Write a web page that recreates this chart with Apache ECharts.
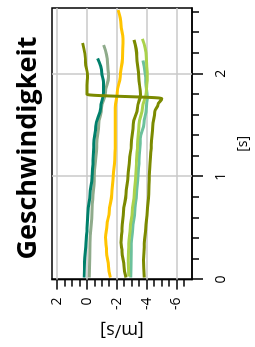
<!DOCTYPE html>
<html><head><meta charset="utf-8">
<script src="https://cdn.jsdelivr.net/npm/echarts@6/dist/echarts.min.js"></script>
<style>
html,body{margin:0;padding:0;background:#fff;overflow:hidden;width:255px;height:347px}
#clip{position:relative;width:255px;height:347px;overflow:hidden}
#wrap{position:absolute;left:0;top:0;width:347px;height:255px;transform-origin:0 0;transform:translate(0,347px) rotate(-90deg);}
</style></head><body><div id="clip"><div id="wrap"></div></div>
<script>
const titleText = 'Geschwindigkeit';
const timeName = '[s]';
const speedName = '[m/s]';
const timeMajorTicks = [0, 1, 2];
const timeMinorTicks = [0.2, 0.4, 0.6, 0.8, 1.2, 1.4, 1.6, 1.8, 2.2, 2.4, 2.6];
const speedMajorTicks = [-6, -4, -2, 0, 2];
const speedMinorTicks = [-6.5, -5.5, -5, -4.5, -3.5, -3, -2.5, -1.5, -1, -0.5, 0.5, 1, 1.5];
const timeGrid = [1, 2];
const speedGrid = [-6, -4, -2, 0, 2];

const teal = [[0.02,0.18],[0.17,0.15],[0.36,0.05],[0.5,-0.02],[0.66,-0.08],[0.83,-0.21],[0.99,-0.34],[1.16,-0.41],[1.32,-0.47],[1.49,-0.6],[1.67,-0.93],[1.82,-1.12],[1.92,-1.12],[2.01,-1.0],[2.15,-0.73]];
const sage = [[0.02,-0.17],[0.36,-0.21],[0.66,-0.34],[0.99,-0.5],[1.32,-0.67],[1.51,-0.8],[1.67,-0.99],[1.82,-1.25],[1.97,-1.45],[2.11,-1.38],[2.28,-1.12]];
const yellow = [[0.02,-1.58],[0.13,-1.45],[0.27,-1.32],[0.41,-1.25],[0.53,-1.35],[0.66,-1.51],[0.83,-1.67],[1.01,-1.77],[1.16,-1.87],[1.31,-1.9],[1.49,-1.9],[1.67,-1.9],[1.82,-2.03],[1.97,-2.23],[2.15,-2.39],[2.34,-2.42],[2.48,-2.29],[2.62,-2.1]];
const olive2 = [[0.02,-2.62],[0.13,-2.49],[0.27,-2.36],[0.36,-2.29],[0.5,-2.36],[0.66,-2.46],[0.83,-2.62],[1.01,-2.75],[1.16,-2.85],[1.31,-2.98],[1.51,-3.11],[1.67,-3.4],[1.8,-3.59],[1.97,-3.48],[2.17,-3.35],[2.33,-3.16]];
const seafoam = [[0.02,-2.94],[0.35,-2.97],[0.5,-3.07],[0.66,-3.2],[0.83,-3.33],[1.01,-3.43],[1.16,-3.5],[1.37,-3.57],[1.52,-3.83],[1.66,-3.98],[1.78,-4.05],[1.92,-3.95],[2.13,-3.76]];
const lime = [[0.03,-2.81],[0.19,-2.78],[0.35,-2.81],[0.5,-2.91],[0.66,-3.04],[0.83,-3.17],[1.01,-3.27],[1.16,-3.33],[1.31,-3.4],[1.51,-3.5],[1.67,-3.72],[1.82,-3.98],[1.97,-4.05],[2.17,-3.98],[2.34,-3.72]];
const olive1 = [[0.02,-3.85],[0.19,-3.79],[0.35,-3.85],[0.5,-3.95],[0.66,-4.05],[0.83,-4.15],[1.01,-4.18],[1.16,-4.24],[1.31,-4.31],[1.49,-4.41],[1.63,-4.54],[1.7,-4.76],[1.76,-5.02],[1.8,-0.02],[1.89,-0.02],[1.98,-0.05],[2.11,0.08],[2.3,0.28]];

const FONT = '"Open Sans", "Liberation Sans", sans-serif';
const chart = echarts.init(document.getElementById('wrap'), null, {renderer: 'canvas', width: 347, height: 255});

function line(data, color) {
  return {type: 'line', data: data, smooth: 0.4, smoothMonotone: 'x', showSymbol: false, symbol: 'none',
    lineStyle: {color: color, width: 3}, itemStyle: {color: color}, z: 3, silent: true};
}
const axisBlack = {color: '#000', width: 1.5};
const timeRange = {min: 0, max: 2.64};
const speedRange = {min: -7.04, max: 2.33};

chart.setOption({
  animation: false,
  backgroundColor: '#fff',
  grid: {left: 59, right: 8, top: 52, bottom: 59, show: true, borderColor: '#000', borderWidth: 1.5, backgroundColor: 'transparent'},
  graphic: [{type: 'text', x: 199, y: 28, z: 10,
    style: {text: titleText, fill: '#000', font: 'bold 27px ' + FONT, align: 'center', verticalAlign: 'middle'}}],
  xAxis: [
    Object.assign({type: 'value', position: 'bottom',
      axisLine: {show: true, onZero: false, lineStyle: axisBlack},
      axisTick: {show: true, customValues: timeMajorTicks, length: 11, lineStyle: axisBlack},
      axisLabel: {customValues: timeMajorTicks, fontSize: 14, color: '#000', margin: 22, fontFamily: FONT},
      splitLine: {show: false},
      name: timeName, nameLocation: 'middle', nameGap: 44,
      nameTextStyle: {fontSize: 14, color: '#000', fontFamily: FONT}}, timeRange),
    Object.assign({type: 'value', position: 'bottom',
      axisLine: {show: false, onZero: false},
      axisTick: {show: true, customValues: timeMinorTicks, length: 7, lineStyle: axisBlack},
      axisLabel: {show: false}, splitLine: {show: false}}, timeRange)
  ],
  yAxis: [
    Object.assign({type: 'value', position: 'left',
      axisLine: {show: true, onZero: false, lineStyle: axisBlack},
      axisTick: {show: true, customValues: speedMajorTicks, length: 10, lineStyle: axisBlack},
      axisLabel: {customValues: speedMajorTicks, fontSize: 14, color: '#000', margin: 18, fontFamily: FONT},
      splitLine: {show: false},
      name: speedName, nameLocation: 'middle', nameGap: 35,
      nameTextStyle: {fontSize: 18, color: '#000', fontFamily: FONT}}, speedRange),
    Object.assign({type: 'value', position: 'left',
      axisLine: {show: false, onZero: false},
      axisTick: {show: true, customValues: speedMinorTicks, length: 7, lineStyle: axisBlack},
      axisLabel: {show: false}, splitLine: {show: false}}, speedRange)
  ],
  series: [
    {type: 'line', data: [], silent: true, z: 1,
      markLine: {silent: true, symbol: 'none', z: 1, animation: false, label: {show: false},
        lineStyle: {color: '#c8c8c8', type: 'solid', width: 1.5},
        data: timeGrid.map(t => ({xAxis: t})).concat(speedGrid.map(v => ({yAxis: v})))}},
    line(sage, '#8fab8b'),
    line(teal, '#00806b'),
    line(yellow, '#ffc400'),
    line(olive2, '#7b8a00'),
    line(seafoam, '#6cc19c'),
    line(lime, '#aad24c'),
    line(olive1, '#7b8a00')
  ]
});
</script></body></html>
